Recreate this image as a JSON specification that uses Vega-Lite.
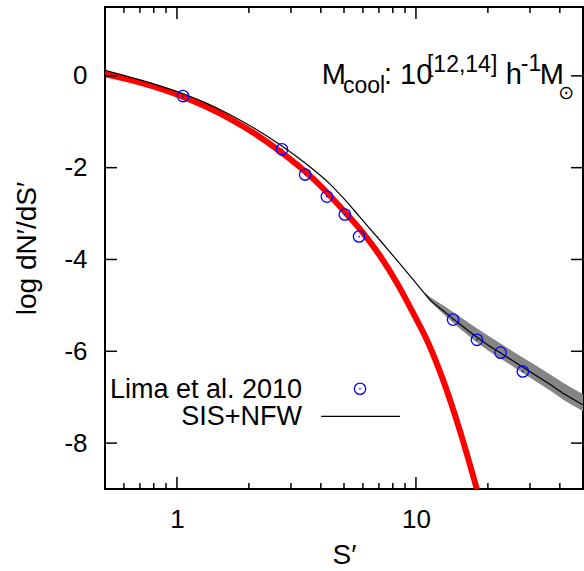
{
  "$schema": "https://vega.github.io/schema/vega-lite/v6.json",
  "width": 478,
  "height": 482,
  "autosize": {"type": "none"},
  "padding": {"left": 105, "top": 7, "right": 1, "bottom": 82},
  "background": "white",
  "config": {
    "font": "Liberation Sans",
    "view": {"stroke": "black", "strokeWidth": 2},
    "axis": {
      "grid": false, "domain": false, "ticks": false,
      "labelColor": "black", "labelFont": "Liberation Sans", "labelFontSize": 26,
      "titleFont": "Liberation Sans", "titleFontSize": 28, "titleFontWeight": "normal", "titleColor": "black"
    }
  },
  "datasets": {
    "band": [
      {"x": 10.906, "lo": -4.764, "hi": -4.720},
      {"x": 11.44, "lo": -4.908, "hi": -4.820},
      {"x": 13.22, "lo": -5.221, "hi": -5.025},
      {"x": 15.28, "lo": -5.507, "hi": -5.245},
      {"x": 17.65, "lo": -5.775, "hi": -5.469},
      {"x": 20.38, "lo": -6.012, "hi": -5.684},
      {"x": 23.55, "lo": -6.219, "hi": -5.891},
      {"x": 27.20, "lo": -6.427, "hi": -6.099},
      {"x": 31.43, "lo": -6.642, "hi": -6.292},
      {"x": 36.31, "lo": -6.849, "hi": -6.499},
      {"x": 41.95, "lo": -7.076, "hi": -6.706},
      {"x": 50, "lo": -7.305, "hi": -6.935}
    ],
    "red": [
      {"x": 0.5, "y": 0.035},
      {"x": 0.7027, "y": -0.148},
      {"x": 1.0625, "y": -0.458},
      {"x": 1.670, "y": -0.936},
      {"x": 2.124, "y": -1.263},
      {"x": 2.702, "y": -1.645},
      {"x": 3.712, "y": -2.239},
      {"x": 5.148, "y": -3.018},
      {"x": 6.003, "y": -3.419},
      {"x": 7.071, "y": -3.919},
      {"x": 8.329, "y": -4.512},
      {"x": 9.716, "y": -5.158},
      {"x": 11.44, "y": -5.900},
      {"x": 12.97, "y": -6.617},
      {"x": 15.28, "y": -7.733},
      {"x": 17.98, "y": -9.0}
    ],
    "black": [
      {"x": 0.5, "y": 0.122},
      {"x": 0.7735, "y": -0.153},
      {"x": 1.0625, "y": -0.391},
      {"x": 1.3255, "y": -0.593},
      {"x": 1.670, "y": -0.847},
      {"x": 2.124, "y": -1.152},
      {"x": 2.702, "y": -1.501},
      {"x": 3.437, "y": -1.900},
      {"x": 4.371, "y": -2.359},
      {"x": 5.050, "y": -2.703},
      {"x": 5.834, "y": -3.079},
      {"x": 7.071, "y": -3.581},
      {"x": 8.575, "y": -4.096},
      {"x": 10.39, "y": -4.619},
      {"x": 11.44, "y": -4.875},
      {"x": 13.22, "y": -5.147},
      {"x": 15.28, "y": -5.409},
      {"x": 17.65, "y": -5.660},
      {"x": 20.38, "y": -5.889},
      {"x": 23.55, "y": -6.096},
      {"x": 27.20, "y": -6.304},
      {"x": 31.43, "y": -6.511},
      {"x": 36.31, "y": -6.718},
      {"x": 41.95, "y": -6.937},
      {"x": 50, "y": -7.166}
    ],
    "lima": [
      {"x": 1.06, "y": -0.44},
      {"x": 2.75, "y": -1.60},
      {"x": 3.44, "y": -2.15},
      {"x": 4.24, "y": -2.63},
      {"x": 5.04, "y": -3.02},
      {"x": 5.78, "y": -3.50},
      {"x": 14.3, "y": -5.31},
      {"x": 18.0, "y": -5.75},
      {"x": 22.6, "y": -6.03},
      {"x": 28.0, "y": -6.44}
    ],
    "xMajor": [{"v": 1}, {"v": 10}],
    "xMinor": [{"v": 0.6}, {"v": 0.7}, {"v": 0.8}, {"v": 0.9}, {"v": 2}, {"v": 3}, {"v": 4}, {"v": 5}, {"v": 6}, {"v": 7}, {"v": 8}, {"v": 9}, {"v": 20}, {"v": 30}, {"v": 40}],
    "yMajor": [{"v": -8}, {"v": -6}, {"v": -4}, {"v": -2}, {"v": 0}],
    "legendPoint": [{"x": 5.834, "y": -6.816}],
    "legendLine": [{"x": 4.009, "x2": 8.576, "y": -7.418}],
    "legendText": [
      {"x": 3.339, "y": -7.013, "label": "Lima et al. 2010"},
      {"x": 3.339, "y": -7.602, "label": "SIS+NFW"}
    ],
    "mainText": [
      {"x": 4.036, "y": -0.183, "label": "M"},
      {"x": 7.35, "y": -0.183, "label": ": 10"},
      {"x": 23.78, "y": -0.183, "label": "h"},
      {"x": 32.98, "y": -0.183, "label": "M"}
    ],
    "scriptText": [
      {"x": 4.954, "y": -0.364, "label": "cool"},
      {"x": 11.12, "y": 0.079, "label": "[12,14]"},
      {"x": 27.47, "y": 0.100, "label": "-1"}
    ],
    "sunText": [{"x": 42.56, "y": -0.38, "label": "⊙"}]
  },
  "layer": [
    {
      "data": {"name": "band"},
      "mark": {"type": "area", "color": "#858585", "opacity": 1, "clip": true},
      "encoding": {
        "x": {"field": "x", "type": "quantitative", "scale": {"type": "log", "domain": [0.5, 50], "nice": false},
          "axis": {"orient": "bottom", "values": [1, 10], "labelExpr": "datum.value + ''", "labelPadding": 17, "labelFlush": false, "labelOverlap": false, "title": "S′", "titlePadding": 9}},
        "y": {"field": "lo", "type": "quantitative", "scale": {"domain": [-9, 1.5], "nice": false, "zero": false},
          "axis": {"orient": "left", "values": [-8, -6, -4, -2, 0], "labelPadding": 18, "labelExpr": "datum.value + ''", "title": "log dN′/dS′", "titlePadding": 22}},
        "y2": {"field": "hi"}
      }
    },
    {
      "data": {"name": "red"},
      "mark": {"type": "line", "color": "#ff0000", "strokeWidth": 6, "interpolate": "monotone", "clip": true},
      "encoding": {
        "x": {"field": "x", "type": "quantitative", "scale": {"type": "log", "domain": [0.5, 50], "nice": false},
          "axis": {"orient": "bottom", "values": [1, 10], "labelExpr": "datum.value + ''", "labelPadding": 17, "labelFlush": false, "labelOverlap": false, "title": "S′", "titlePadding": 9}},
        "y": {"field": "y", "type": "quantitative", "scale": {"domain": [-9, 1.5], "nice": false, "zero": false},
          "axis": {"orient": "left", "values": [-8, -6, -4, -2, 0], "labelPadding": 18, "labelExpr": "datum.value + ''", "title": "log dN′/dS′", "titlePadding": 22}}
      }
    },
    {
      "data": {"name": "black"},
      "mark": {"type": "line", "color": "black", "strokeWidth": 1.2, "interpolate": "monotone", "clip": true},
      "encoding": {
        "x": {"field": "x", "type": "quantitative", "scale": {"type": "log", "domain": [0.5, 50], "nice": false},
          "axis": {"orient": "bottom", "values": [1, 10], "labelExpr": "datum.value + ''", "labelPadding": 17, "labelFlush": false, "labelOverlap": false, "title": "S′", "titlePadding": 9}},
        "y": {"field": "y", "type": "quantitative", "scale": {"domain": [-9, 1.5], "nice": false, "zero": false},
          "axis": {"orient": "left", "values": [-8, -6, -4, -2, 0], "labelPadding": 18, "labelExpr": "datum.value + ''", "title": "log dN′/dS′", "titlePadding": 22}}
      }
    },
    {
      "data": {"name": "xMajor"},
      "mark": {"type": "tick", "orient": "vertical", "size": 24, "thickness": 1.5, "color": "black", "opacity": 1, "clip": true},
      "encoding": {
        "x": {"field": "v", "type": "quantitative", "scale": {"type": "log", "domain": [0.5, 50], "nice": false},
          "axis": {"orient": "bottom", "values": [1, 10], "labelExpr": "datum.value + ''", "labelPadding": 17, "labelFlush": false, "labelOverlap": false, "title": "S′", "titlePadding": 9}},
        "y": {"datum": -9, "type": "quantitative", "scale": {"domain": [-9, 1.5], "nice": false, "zero": false},
          "axis": {"orient": "left", "values": [-8, -6, -4, -2, 0], "labelPadding": 18, "labelExpr": "datum.value + ''", "title": "log dN′/dS′", "titlePadding": 22}}
      }
    },
    {
      "data": {"name": "xMajor"},
      "mark": {"type": "tick", "orient": "vertical", "size": 24, "thickness": 1.5, "color": "black", "opacity": 1, "clip": true},
      "encoding": {
        "x": {"field": "v", "type": "quantitative", "scale": {"type": "log", "domain": [0.5, 50], "nice": false},
          "axis": {"orient": "bottom", "values": [1, 10], "labelExpr": "datum.value + ''", "labelPadding": 17, "labelFlush": false, "labelOverlap": false, "title": "S′", "titlePadding": 9}},
        "y": {"datum": 1.5, "type": "quantitative", "scale": {"domain": [-9, 1.5], "nice": false, "zero": false},
          "axis": {"orient": "left", "values": [-8, -6, -4, -2, 0], "labelPadding": 18, "labelExpr": "datum.value + ''", "title": "log dN′/dS′", "titlePadding": 22}}
      }
    },
    {
      "data": {"name": "xMinor"},
      "mark": {"type": "tick", "orient": "vertical", "size": 12, "thickness": 1.5, "color": "black", "opacity": 1, "clip": true},
      "encoding": {
        "x": {"field": "v", "type": "quantitative", "scale": {"type": "log", "domain": [0.5, 50], "nice": false},
          "axis": {"orient": "bottom", "values": [1, 10], "labelExpr": "datum.value + ''", "labelPadding": 17, "labelFlush": false, "labelOverlap": false, "title": "S′", "titlePadding": 9}},
        "y": {"datum": -9, "type": "quantitative", "scale": {"domain": [-9, 1.5], "nice": false, "zero": false},
          "axis": {"orient": "left", "values": [-8, -6, -4, -2, 0], "labelPadding": 18, "labelExpr": "datum.value + ''", "title": "log dN′/dS′", "titlePadding": 22}}
      }
    },
    {
      "data": {"name": "xMinor"},
      "mark": {"type": "tick", "orient": "vertical", "size": 12, "thickness": 1.5, "color": "black", "opacity": 1, "clip": true},
      "encoding": {
        "x": {"field": "v", "type": "quantitative", "scale": {"type": "log", "domain": [0.5, 50], "nice": false},
          "axis": {"orient": "bottom", "values": [1, 10], "labelExpr": "datum.value + ''", "labelPadding": 17, "labelFlush": false, "labelOverlap": false, "title": "S′", "titlePadding": 9}},
        "y": {"datum": 1.5, "type": "quantitative", "scale": {"domain": [-9, 1.5], "nice": false, "zero": false},
          "axis": {"orient": "left", "values": [-8, -6, -4, -2, 0], "labelPadding": 18, "labelExpr": "datum.value + ''", "title": "log dN′/dS′", "titlePadding": 22}}
      }
    },
    {
      "data": {"name": "yMajor"},
      "mark": {"type": "tick", "orient": "horizontal", "size": 24, "thickness": 1.5, "color": "black", "opacity": 1, "clip": true},
      "encoding": {
        "y": {"field": "v", "type": "quantitative", "scale": {"domain": [-9, 1.5], "nice": false, "zero": false},
          "axis": {"orient": "left", "values": [-8, -6, -4, -2, 0], "labelPadding": 18, "labelExpr": "datum.value + ''", "title": "log dN′/dS′", "titlePadding": 22}},
        "x": {"datum": 0.5, "type": "quantitative", "scale": {"type": "log", "domain": [0.5, 50], "nice": false},
          "axis": {"orient": "bottom", "values": [1, 10], "labelExpr": "datum.value + ''", "labelPadding": 17, "labelFlush": false, "labelOverlap": false, "title": "S′", "titlePadding": 9}}
      }
    },
    {
      "data": {"name": "yMajor"},
      "mark": {"type": "tick", "orient": "horizontal", "size": 24, "thickness": 1.5, "color": "black", "opacity": 1, "clip": true},
      "encoding": {
        "y": {"field": "v", "type": "quantitative", "scale": {"domain": [-9, 1.5], "nice": false, "zero": false},
          "axis": {"orient": "left", "values": [-8, -6, -4, -2, 0], "labelPadding": 18, "labelExpr": "datum.value + ''", "title": "log dN′/dS′", "titlePadding": 22}},
        "x": {"datum": 50, "type": "quantitative", "scale": {"type": "log", "domain": [0.5, 50], "nice": false},
          "axis": {"orient": "bottom", "values": [1, 10], "labelExpr": "datum.value + ''", "labelPadding": 17, "labelFlush": false, "labelOverlap": false, "title": "S′", "titlePadding": 9}}
      }
    },
    {
      "data": {"name": "lima"},
      "mark": {"type": "point", "shape": "circle", "filled": false, "color": "#0000ff", "strokeWidth": 1.3, "size": 130, "opacity": 1},
      "encoding": {
        "x": {"field": "x", "type": "quantitative", "scale": {"type": "log", "domain": [0.5, 50], "nice": false},
          "axis": {"orient": "bottom", "values": [1, 10], "labelExpr": "datum.value + ''", "labelPadding": 17, "labelFlush": false, "labelOverlap": false, "title": "S′", "titlePadding": 9}},
        "y": {"field": "y", "type": "quantitative", "scale": {"domain": [-9, 1.5], "nice": false, "zero": false},
          "axis": {"orient": "left", "values": [-8, -6, -4, -2, 0], "labelPadding": 18, "labelExpr": "datum.value + ''", "title": "log dN′/dS′", "titlePadding": 22}}
      }
    },
    {
      "data": {"name": "lima"},
      "mark": {"type": "point", "shape": "circle", "filled": true, "color": "#0000ff", "size": 3, "opacity": 1},
      "encoding": {
        "x": {"field": "x", "type": "quantitative", "scale": {"type": "log", "domain": [0.5, 50], "nice": false},
          "axis": {"orient": "bottom", "values": [1, 10], "labelExpr": "datum.value + ''", "labelPadding": 17, "labelFlush": false, "labelOverlap": false, "title": "S′", "titlePadding": 9}},
        "y": {"field": "y", "type": "quantitative", "scale": {"domain": [-9, 1.5], "nice": false, "zero": false},
          "axis": {"orient": "left", "values": [-8, -6, -4, -2, 0], "labelPadding": 18, "labelExpr": "datum.value + ''", "title": "log dN′/dS′", "titlePadding": 22}}
      }
    },
    {
      "data": {"name": "legendPoint"},
      "mark": {"type": "point", "shape": "circle", "filled": false, "color": "#0000ff", "strokeWidth": 1.3, "size": 130, "opacity": 1},
      "encoding": {
        "x": {"field": "x", "type": "quantitative", "scale": {"type": "log", "domain": [0.5, 50], "nice": false},
          "axis": {"orient": "bottom", "values": [1, 10], "labelExpr": "datum.value + ''", "labelPadding": 17, "labelFlush": false, "labelOverlap": false, "title": "S′", "titlePadding": 9}},
        "y": {"field": "y", "type": "quantitative", "scale": {"domain": [-9, 1.5], "nice": false, "zero": false},
          "axis": {"orient": "left", "values": [-8, -6, -4, -2, 0], "labelPadding": 18, "labelExpr": "datum.value + ''", "title": "log dN′/dS′", "titlePadding": 22}}
      }
    },
    {
      "data": {"name": "legendPoint"},
      "mark": {"type": "point", "shape": "circle", "filled": true, "color": "#0000ff", "size": 3, "opacity": 1},
      "encoding": {
        "x": {"field": "x", "type": "quantitative", "scale": {"type": "log", "domain": [0.5, 50], "nice": false},
          "axis": {"orient": "bottom", "values": [1, 10], "labelExpr": "datum.value + ''", "labelPadding": 17, "labelFlush": false, "labelOverlap": false, "title": "S′", "titlePadding": 9}},
        "y": {"field": "y", "type": "quantitative", "scale": {"domain": [-9, 1.5], "nice": false, "zero": false},
          "axis": {"orient": "left", "values": [-8, -6, -4, -2, 0], "labelPadding": 18, "labelExpr": "datum.value + ''", "title": "log dN′/dS′", "titlePadding": 22}}
      }
    },
    {
      "data": {"name": "legendLine"},
      "mark": {"type": "rule", "color": "black", "strokeWidth": 1.2},
      "encoding": {
        "x": {"field": "x", "type": "quantitative", "scale": {"type": "log", "domain": [0.5, 50], "nice": false},
          "axis": {"orient": "bottom", "values": [1, 10], "labelExpr": "datum.value + ''", "labelPadding": 17, "labelFlush": false, "labelOverlap": false, "title": "S′", "titlePadding": 9}},
        "x2": {"field": "x2"},
        "y": {"field": "y", "type": "quantitative", "scale": {"domain": [-9, 1.5], "nice": false, "zero": false},
          "axis": {"orient": "left", "values": [-8, -6, -4, -2, 0], "labelPadding": 18, "labelExpr": "datum.value + ''", "title": "log dN′/dS′", "titlePadding": 22}}
      }
    },
    {
      "data": {"name": "legendText"},
      "mark": {"type": "text", "align": "right", "baseline": "alphabetic", "fontSize": 27, "color": "black", "font": "Liberation Sans"},
      "encoding": {
        "x": {"field": "x", "type": "quantitative", "scale": {"type": "log", "domain": [0.5, 50], "nice": false},
          "axis": {"orient": "bottom", "values": [1, 10], "labelExpr": "datum.value + ''", "labelPadding": 17, "labelFlush": false, "labelOverlap": false, "title": "S′", "titlePadding": 9}},
        "y": {"field": "y", "type": "quantitative", "scale": {"domain": [-9, 1.5], "nice": false, "zero": false},
          "axis": {"orient": "left", "values": [-8, -6, -4, -2, 0], "labelPadding": 18, "labelExpr": "datum.value + ''", "title": "log dN′/dS′", "titlePadding": 22}},
        "text": {"field": "label"}
      }
    },
    {
      "data": {"name": "mainText"},
      "mark": {"type": "text", "align": "left", "baseline": "alphabetic", "fontSize": 29, "color": "black", "font": "Liberation Sans"},
      "encoding": {
        "x": {"field": "x", "type": "quantitative", "scale": {"type": "log", "domain": [0.5, 50], "nice": false},
          "axis": {"orient": "bottom", "values": [1, 10], "labelExpr": "datum.value + ''", "labelPadding": 17, "labelFlush": false, "labelOverlap": false, "title": "S′", "titlePadding": 9}},
        "y": {"field": "y", "type": "quantitative", "scale": {"domain": [-9, 1.5], "nice": false, "zero": false},
          "axis": {"orient": "left", "values": [-8, -6, -4, -2, 0], "labelPadding": 18, "labelExpr": "datum.value + ''", "title": "log dN′/dS′", "titlePadding": 22}},
        "text": {"field": "label"}
      }
    },
    {
      "data": {"name": "scriptText"},
      "mark": {"type": "text", "align": "left", "baseline": "alphabetic", "fontSize": 23, "color": "black", "font": "Liberation Sans"},
      "encoding": {
        "x": {"field": "x", "type": "quantitative", "scale": {"type": "log", "domain": [0.5, 50], "nice": false},
          "axis": {"orient": "bottom", "values": [1, 10], "labelExpr": "datum.value + ''", "labelPadding": 17, "labelFlush": false, "labelOverlap": false, "title": "S′", "titlePadding": 9}},
        "y": {"field": "y", "type": "quantitative", "scale": {"domain": [-9, 1.5], "nice": false, "zero": false},
          "axis": {"orient": "left", "values": [-8, -6, -4, -2, 0], "labelPadding": 18, "labelExpr": "datum.value + ''", "title": "log dN′/dS′", "titlePadding": 22}},
        "text": {"field": "label"}
      }
    },
    {
      "data": {"name": "sunText"},
      "mark": {"type": "text", "align": "center", "baseline": "middle", "fontSize": 19, "color": "black", "font": "DejaVu Sans"},
      "encoding": {
        "x": {"field": "x", "type": "quantitative", "scale": {"type": "log", "domain": [0.5, 50], "nice": false},
          "axis": {"orient": "bottom", "values": [1, 10], "labelExpr": "datum.value + ''", "labelPadding": 17, "labelFlush": false, "labelOverlap": false, "title": "S′", "titlePadding": 9}},
        "y": {"field": "y", "type": "quantitative", "scale": {"domain": [-9, 1.5], "nice": false, "zero": false},
          "axis": {"orient": "left", "values": [-8, -6, -4, -2, 0], "labelPadding": 18, "labelExpr": "datum.value + ''", "title": "log dN′/dS′", "titlePadding": 22}},
        "text": {"field": "label"}
      }
    }
  ]
}
